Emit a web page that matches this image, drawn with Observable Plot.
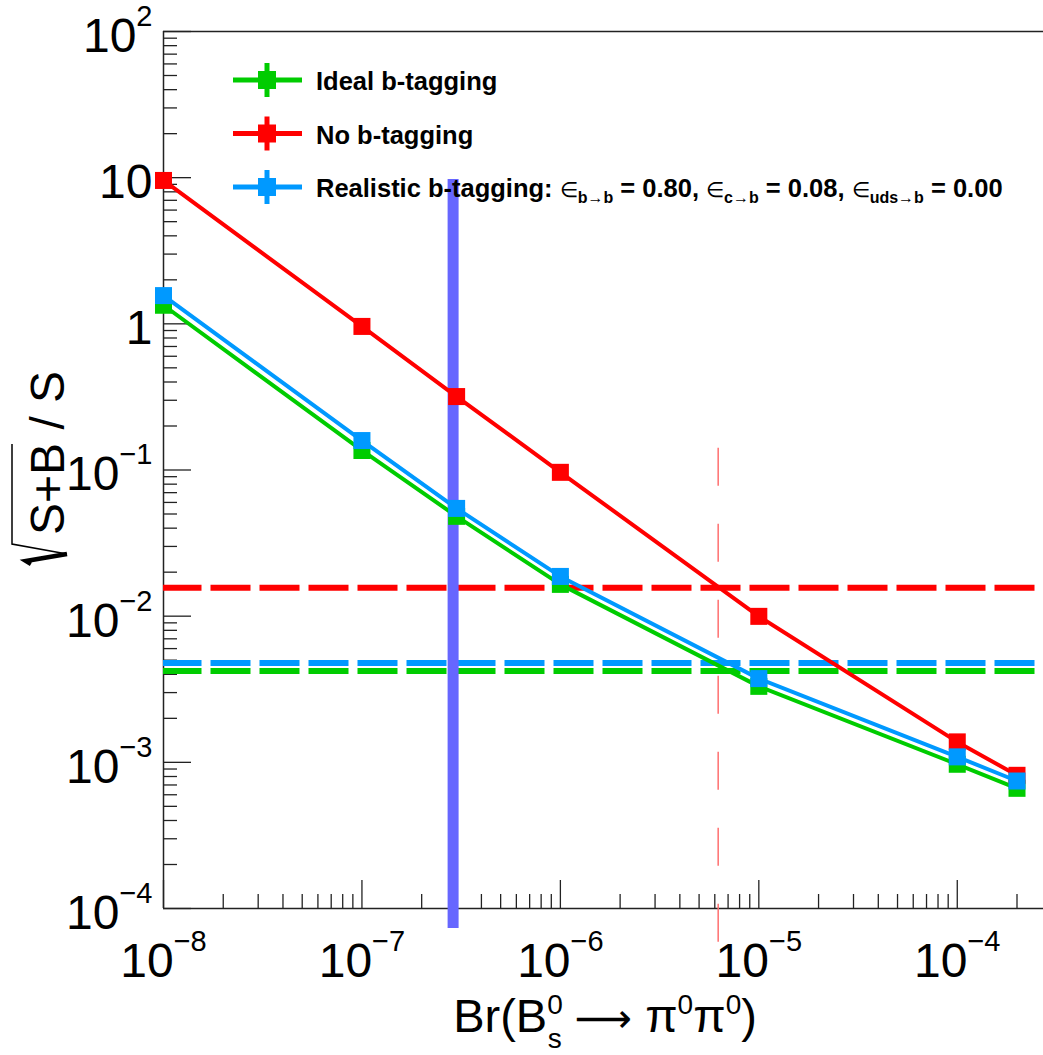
<!DOCTYPE html>
<html>
<head>
<meta charset="utf-8">
<script src="https://cdn.jsdelivr.net/npm/d3@7"></script>
<script src="https://cdn.jsdelivr.net/npm/@observablehq/plot@0.6"></script>
<style>
html, body { margin: 0; padding: 0; background: #fff; overflow: hidden; }
#chart svg { display: block; }
</style>
</head>
<body>
<div id="chart"></div>
<script>
// ---- data ----
const branchingRatios = [1e-8, 1e-7, 3e-7, 1e-6, 1e-5, 1e-4, 2e-4];
const idealValues     = [1.34, 0.136, 0.0482, 0.0165, 0.00331, 0.00097, 0.000664];
const noTagValues     = [9.57, 0.96, 0.318, 0.0964, 0.00997, 0.00138, 0.000815];
const realValues      = [1.56, 0.159, 0.0546, 0.0187, 0.00374, 0.00109, 0.000745];

const thresholdNoTag = 0.01567;
const thresholdReal  = 0.00478;
const thresholdIdeal = 0.00421;

const blueLineX = 2.88e-7, blueLineTop = 9.7, blueLineBottom = 7.3e-5;
const redLineX = 6.24e-6, redLineTop = 0.1406, redLineBottom = 5.43e-5;

const xMajorTicks = [1e-8, 1e-7, 1e-6, 1e-5, 1e-4];
const xTickLabels = ["10^−8", "10^−7", "10^−6", "10^−5", "10^−4"];
const yMajorTicks = [1e2, 1e1, 1, 1e-1, 1e-2, 1e-3, 1e-4];
const yTickLabels = ["10^2", "10", "1", "10^−1", "10^−2", "10^−3", "10^−4"];

const legendLabels = ["Ideal b-tagging", "No b-tagging", "Realistic b-tagging: "];
const efficiencies = [
  {sub: "b→b", val: "0.80"},
  {sub: "c→b", val: "0.08"},
  {sub: "uds→b", val: "0.00"}
];

const GREEN = "#00cc00", RED = "#ff0000", BLUE = "#0099ff", VIOLET = "#6666ff";

const xDomain = [1e-8, 2.72e-4];
const yDomain = [1e-4, 1e2];

// minor tick positions (2..9 per decade)
const minorOf = (lo, hi) => d3.scaleLog().domain([lo, hi]).ticks().filter(v => {
  const m = v / Math.pow(10, Math.floor(Math.log10(v) + 1e-9));
  return Math.abs(m - 1) > 1e-6;
});
const xMinorTicks = minorOf(xDomain[0], xDomain[1]);
const yMinorTicks = minorOf(yDomain[0], yDomain[1]);

const series = (vals) => branchingRatios.map((x, i) => ({x, y: vals[i]}));
const idealData = series(idealValues);
const noTagData = series(noTagValues);
const realData = series(realValues);

const W = 1043, H = 1055, mT = 31, mB = 147, mL = 163, mR = 0;
const innerW = W - mL - mR, innerH = H - mT - mB;
const FONT = "'Liberation Sans', Arial, Helvetica, sans-serif";

const graph = (data, color) => [
  Plot.line(data, {x: "x", y: "y", stroke: color, strokeWidth: 4}),
  Plot.dot(data, {x: "x", y: "y", symbol: "square", r: 9.6, fill: color, stroke: "none"})
];

const plot = Plot.plot({
  width: W, height: H,
  marginTop: mT, marginBottom: mB, marginLeft: mL, marginRight: mR,
  x: {type: "log", domain: xDomain},
  y: {type: "log", domain: yDomain},
  style: {fontFamily: FONT, background: "#fff", color: "#000"},
  marks: [
    // frame
    Plot.ruleY([yDomain[1]], {y: d => d, stroke: "#222", strokeWidth: 1.5}),
    Plot.ruleY([yDomain[0]], {y: d => d, stroke: "#222", strokeWidth: 1.5}),
    Plot.ruleX([xDomain[0]], {x: d => d, stroke: "#222", strokeWidth: 1.5}),
    // inward ticks
    Plot.ruleX(xMajorTicks, {x: d => d, insetTop: innerH - 28, stroke: "#222", strokeWidth: 1.3}),
    Plot.ruleX(xMinorTicks, {x: d => d, insetTop: innerH - 14, stroke: "#222", strokeWidth: 1.3}),
    Plot.ruleY(yMajorTicks, {y: d => d, insetRight: innerW - 28, stroke: "#222", strokeWidth: 1.3}),
    Plot.ruleY(yMinorTicks, {y: d => d, insetRight: innerW - 14, stroke: "#222", strokeWidth: 1.3}),
    // tick labels
    Plot.axisX(xMajorTicks, {anchor: "bottom", tickSize: 0, tickPadding: 34, fontSize: 48, label: null,
      tickFormat: d => xTickLabels[xMajorTicks.indexOf(d)]}),
    Plot.axisY(yMajorTicks, {anchor: "left", tickSize: 0, tickPadding: 11, fontSize: 48, dy: 5, label: null,
      tickFormat: d => yTickLabels[yMajorTicks.indexOf(d)]}),
    // threshold dashed lines
    Plot.ruleY([thresholdNoTag], {y: d => d, stroke: RED, strokeWidth: 6, strokeDasharray: "40,9", strokeDashoffset: 1.5}),
    Plot.ruleY([thresholdReal], {y: d => d, stroke: BLUE, strokeWidth: 6, strokeDasharray: "40,9", strokeDashoffset: 1.5}),
    Plot.ruleY([thresholdIdeal], {y: d => d, stroke: GREEN, strokeWidth: 6, strokeDasharray: "40,9", strokeDashoffset: 1.5}),
    // vertical markers
    Plot.ruleX([redLineX], {x: d => d, y1: () => redLineTop, y2: () => redLineBottom, stroke: "#ff6f6f", strokeWidth: 1.5, strokeDasharray: "38,38"}),
    Plot.ruleX([blueLineX], {x: d => d, y1: () => blueLineTop, y2: () => blueLineBottom, stroke: VIOLET, strokeWidth: 11, ariaLabel: "blue-vline"}),
    // graphs
    ...graph(idealData, GREEN),
    ...graph(noTagData, RED),
    ...graph(realData, BLUE)
  ]
});

document.getElementById("chart").appendChild(plot);
const svg = d3.select(plot);

// superscript exponents in tick labels
svg.selectAll('g[aria-label="x-axis tick label"] text, g[aria-label="y-axis tick label"] text').each(function () {
  const parts = this.textContent.split("^");
  if (parts.length < 2) return;
  const t = d3.select(this);
  t.text(null);
  t.append("tspan").text(parts[0]);
  t.append("tspan").attr("font-size", 29).attr("dy", -26).text(parts[1]);
});

// legend (below the violet vertical line)
const legendColors = [GREEN, RED, BLUE];
const legend = svg.insert("g", 'g[aria-label="blue-vline"]')
  .attr("font-family", FONT)
  .attr("font-weight", "bold")
  .attr("text-anchor", "start")
  .style("white-space", "pre");
legendLabels.forEach((label, i) => {
  const y = 80 + i * 53.5, c = legendColors[i];
  legend.append("line").attr("x1", 233).attr("x2", 302).attr("y1", y).attr("y2", y).attr("stroke", c).attr("stroke-width", 5);
  legend.append("line").attr("x1", 267).attr("x2", 267).attr("y1", y - 17).attr("y2", y + 17).attr("stroke", c).attr("stroke-width", 5);
  legend.append("rect").attr("x", 258).attr("y", y - 9).attr("width", 18).attr("height", 18).attr("fill", c);
  const t = legend.append("text").attr("x", 316).attr("y", y + 10).attr("font-size", 25.5).attr("fill", "#000").attr("text-anchor", "start");
  t.append("tspan").text(label);
  if (i === 2) {
    efficiencies.forEach((e, k) => {
      t.append("tspan").attr("font-size", 21).attr("font-weight", "normal").text("∈");
      t.append("tspan").attr("font-size", 16).attr("dy", 6).text(e.sub);
      t.append("tspan").attr("dy", -6).text(" = " + e.val + (k < efficiencies.length - 1 ? ", " : ""));
    });
  }
});

// x-axis title
const xl = svg.append("text").attr("x", 605).attr("y", 1032).attr("text-anchor", "middle")
  .attr("font-size", 47).attr("fill", "#000").style("white-space", "pre");
xl.append("tspan").text("Br(B");
xl.append("tspan").attr("font-size", 28).attr("dy", -18).text("0");
xl.append("tspan").attr("font-size", 28).attr("dx", -15).attr("dy", 34).text("s");
xl.append("tspan").attr("dy", -16).text(" ");
xl.append("tspan").attr("font-family", "'DejaVu Sans', sans-serif").attr("font-size", 40).text("⟶");
xl.append("tspan").text(" π");
xl.append("tspan").attr("font-size", 28).attr("dy", -18).text("0");
xl.append("tspan").attr("dy", 18).text("π");
xl.append("tspan").attr("font-size", 28).attr("dy", -18).text("0");
xl.append("tspan").attr("dy", 18).text(")");

// y-axis title with radical
const yl = svg.append("g").attr("transform", "translate(64,535) rotate(-90)");
yl.append("text").attr("font-size", 48).attr("fill", "#000").attr("text-anchor", "start").style("white-space", "pre").text("S+B / S");
yl.append("path").attr("d", "M-29,-33L-26,-38L-19,3").attr("fill", "none").attr("stroke", "#000").attr("stroke-width", 4.5);
yl.append("path").attr("d", "M-19,3L-9,-52L91,-52").attr("fill", "none").attr("stroke", "#000").attr("stroke-width", 1.5);
</script>
</body>
</html>
